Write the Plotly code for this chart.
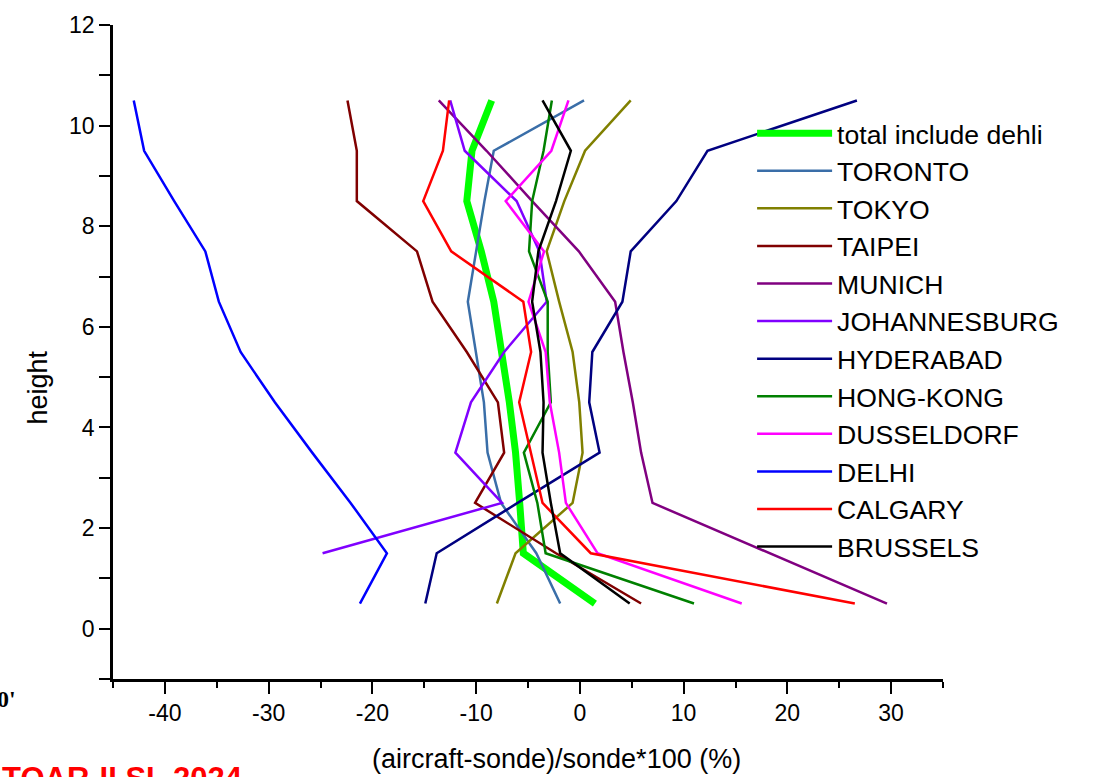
import plotly.graph_objects as go

heights = [0.5, 1.5, 2.5, 3.5, 4.5, 5.5, 6.5, 7.5, 8.5, 9.5, 10.5]

total = [1.45, -5.45, -5.8, -6.2, -6.8, -7.6, -8.3, -9.5, -10.9, -10.4, -8.5]
toronto = [-1.9, -4.2, -7.6, -8.9, -9.25, -10.0, -10.8, -10.0, -9.2, -8.3, 0.4]
tokyo = [-8.0, -6.2, -0.7, 0.26, -0.06, -0.7, -2.0, -3.2, -1.5, 0.5, 4.9]
taipei = [5.9, -2.3, -10.1, -7.3, -7.9, -10.9, -14.2, -15.7, -21.5, -21.5, -22.4]
munich = [29.6, 18.3, 7.0, 5.9, 5.1, 4.2, 3.4, -0.1, -4.6, -9.0, -13.6]
johannesburg = [None, -24.8, -7.5, -12.0, -10.5, -7.3, -3.2, -3.9, -6.1, -11.1, -12.5]
hyderabad = [-14.9, -13.8, -6.0, 1.9, 0.9, 1.2, 4.1, 4.9, 9.3, 12.3, 26.7]
hongkong = [11.0, -3.3, -4.1, -5.4, -2.8, -3.1, -3.1, -4.9, -4.6, -3.5, -2.7]
dusseldorf = [15.6, 1.7, -1.35, -2.0, -2.9, -3.3, -4.95, -3.45, -7.15, -2.75, -1.1]
delhi = [-21.2, -18.6, -22.1, -25.8, -29.4, -32.7, -34.8, -36.1, -39.1, -42.0, -43.0]
calgary = [26.5, 1.05, -3.6, -4.7, -5.85, -4.7, -5.45, -12.4, -15.1, -13.2, -12.6]
brussels = [4.8, -1.9, -2.8, -3.6, -3.5, -3.8, -4.6, -4.0, -2.3, -0.87, -3.6]

series_names = ["total include dehli", "TORONTO", "TOKYO", "TAIPEI", "MUNICH",
                "JOHANNESBURG", "HYDERABAD", "HONG-KONG", "DUSSELDORF", "DELHI",
                "CALGARY", "BRUSSELS"]
series_values = [total, toronto, tokyo, taipei, munich, johannesburg, hyderabad,
                 hongkong, dusseldorf, delhi, calgary, brussels]
series_colors = ["#00FF00", "#3A6EA8", "#808000", "#800000", "#800080", "#8000FF",
                 "#000080", "#008000", "#FF00FF", "#0000FF", "#FF0000", "#000000"]
series_widths = [7, 2.5, 2.5, 2.5, 2.5, 2.5, 2.5, 2.5, 2.5, 2.5, 2.5, 2.5]

x_tickvals = [-40, -30, -20, -10, 0, 10, 20, 30]
x_ticktext = [str(v) for v in x_tickvals]
y_tickvals = list(range(-1, 13))
y_ticktext = [str(v) if v % 2 == 0 and v >= 0 else "" for v in y_tickvals]

fig = go.Figure()
for name, vals, col, w in zip(series_names, series_values, series_colors, series_widths):
    fig.add_trace(go.Scatter(x=vals, y=heights, mode="lines", name=name,
                             line=dict(color=col, width=w)))

font_family = "Liberation Sans, Arial, sans-serif"

fig.update_layout(
    width=1097, height=777,
    margin=dict(l=113, r=154, t=20, b=98),
    paper_bgcolor="white", plot_bgcolor="white",
    font=dict(family=font_family, color="black"),
    showlegend=True,
    legend=dict(x=0.77, y=0.871, xanchor="left", yanchor="top",
                font=dict(size=26.6, family=font_family, color="black"),
                bgcolor="rgba(0,0,0,0)", itemwidth=75, tracegroupgap=0),
    xaxis=dict(range=[-45, 35], tickmode="array", tickvals=x_tickvals,
               ticktext=x_ticktext, ticks="outside", ticklen=12,
               tickwidth=2, tickcolor="black", showline=True, linecolor="black",
               linewidth=2.5, showgrid=False, zeroline=False,
               tickfont=dict(size=23, family=font_family),
               minor=dict(dtick=5, tick0=0, ticks="outside", ticklen=6,
                          tickwidth=2, tickcolor="black", showgrid=False)),
    yaxis=dict(range=[-1, 12], tickmode="array", tickvals=y_tickvals,
               ticktext=y_ticktext, ticks="outside", ticklen=11, tickwidth=2,
               tickcolor="black", showline=True, linecolor="black", linewidth=2.5,
               showgrid=False, zeroline=False,
               tickfont=dict(size=23, family=font_family)),
    annotations=[
        dict(text="(aircraft-sonde)/sonde*100 (%)", xref="paper", yref="paper",
             x=0.534, y=-0.123, xanchor="center", yanchor="middle", showarrow=False,
             font=dict(size=27, family=font_family, color="black")),
        dict(text="height", xref="paper", yref="paper", x=-0.09, y=0.446,
             xanchor="center", yanchor="middle", textangle=-90, showarrow=False,
             font=dict(size=27, family=font_family, color="black")),
        dict(text="<b>0'</b>", xref="paper", yref="paper", x=-0.142, y=-0.03,
             xanchor="left", yanchor="middle", showarrow=False,
             font=dict(size=24, family="Liberation Serif, Times New Roman, serif",
                       color="black")),
        dict(text="<b>TOAR-II SL 2024</b>", xref="paper", yref="paper", x=-0.136,
             y=-0.122, xanchor="left", yanchor="top", showarrow=False,
             font=dict(size=31, family=font_family, color="#FF0000")),
    ],
)

fig.write_html("out.html")
